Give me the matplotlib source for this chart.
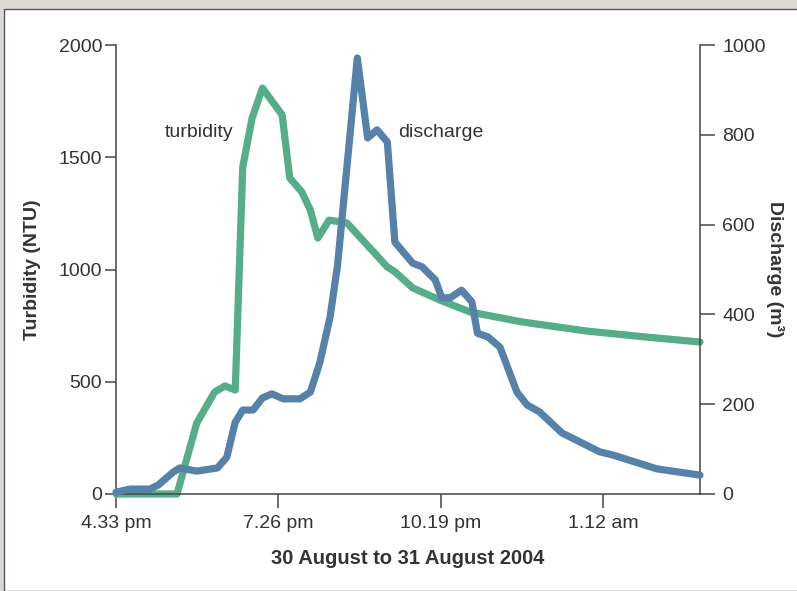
import matplotlib
matplotlib.use("Agg")
import matplotlib.pyplot as plt
from matplotlib.patches import Rectangle

plt.rcParams['font.family'] = ['Liberation Sans', 'DejaVu Sans']

# minutes after 4.33 pm, 30 August 2004
turb_t = [0, 65, 86, 105, 116, 127, 135, 145, 156, 177, 185, 198, 207, 215, 227, 246,
          289, 297, 316, 345, 377, 433, 501, 565, 622]
turb_ntu = [0, 0, 316, 454, 481, 463, 1457, 1675, 1808, 1688, 1408, 1345, 1265, 1140, 1220, 1207,
            1011, 990, 918, 864, 811, 766, 726, 699, 677]

dis_t = [0, 15, 36, 45, 61, 68, 86, 108, 118, 127, 135, 146, 156, 166, 178, 196, 207, 217,
         228, 236, 257, 268, 278, 289, 297, 316, 326, 340, 347, 356, 368, 379, 385, 396,
         409, 427, 438, 451, 475, 515, 529, 576, 622]
dis_m3 = [4, 11, 11, 20, 49, 58, 51, 58, 82, 160, 187, 187, 214, 223, 212, 212, 227, 292,
          394, 510, 971, 793, 811, 784, 561, 514, 506, 477, 437, 437, 454, 428, 358, 350,
          327, 227, 198, 183, 136, 94, 87, 56, 42]

tick_pos = [0, 173, 346, 519]
tick_lbl = ["4.33 pm", "7.26 pm", "10.19 pm", "1.12 am"]

green = "#55ad89"
blue = "#5681a9"
ink = "#333333"

fig = plt.figure(figsize=(7.97, 5.91), dpi=100, facecolor="#dcd8d4")
fig.patches.append(Rectangle((4 / 797, 0), 1, 1 - 9 / 591, transform=fig.transFigure,
                             facecolor="white", edgecolor="#555555", linewidth=1, zorder=-10))

ax = fig.add_axes([116 / 797, 97 / 591, 584 / 797, 449 / 591])
ax2 = ax.twinx()
ax.set_facecolor("none")
ax2.set_facecolor("none")

ax.plot(turb_t, turb_ntu, color=green, linewidth=5.2, solid_capstyle="round",
        solid_joinstyle="round", clip_on=False, zorder=2)
ax2.plot(dis_t, dis_m3, color=blue, linewidth=5.2, solid_capstyle="round",
         solid_joinstyle="round", clip_on=False, zorder=3)

ax.set_xlim(0, 622)
ax.set_ylim(0, 2000)
ax2.set_ylim(0, 1000)
ax.set_yticks([0, 500, 1000, 1500, 2000])
ax2.set_yticks([0, 200, 400, 600, 800, 1000])
ax.set_xticks(tick_pos)
ax.set_xticklabels(tick_lbl)

for a in (ax, ax2):
    a.spines["top"].set_visible(False)
    for s in a.spines.values():
        s.set_color("#444444")
        s.set_linewidth(1.1)
ax.spines["right"].set_visible(False)
ax2.spines["left"].set_visible(False)
ax2.spines["bottom"].set_visible(False)

ax.tick_params(axis="y", length=8, width=1.1, color="#444444", labelsize=14,
               labelcolor=ink, pad=2)
ax.tick_params(axis="x", length=10, width=1.1, color="#444444", labelsize=14,
               labelcolor=ink, pad=5)
ax2.tick_params(axis="y", length=11, width=1.1, color="#444444", labelsize=14,
                labelcolor=ink, pad=5)

ax.set_ylabel("Turbidity (NTU)", fontsize=14, fontweight="bold", color=ink, labelpad=13)
ax2.set_ylabel("Discharge (m³)", fontsize=14, fontweight="bold", color=ink,
               rotation=-90, labelpad=13)
ax.set_xlabel("30 August to 31 August 2004", fontsize=14.5, fontweight="bold", color=ink,
              labelpad=12)

ax.text(125, 1610, "turbidity", fontsize=14, color=ink, ha="right", va="center")
ax2.text(301, 805, "discharge", fontsize=14, color=ink, ha="left", va="center")

fig.savefig("out.png", dpi=100, facecolor=fig.get_facecolor())
